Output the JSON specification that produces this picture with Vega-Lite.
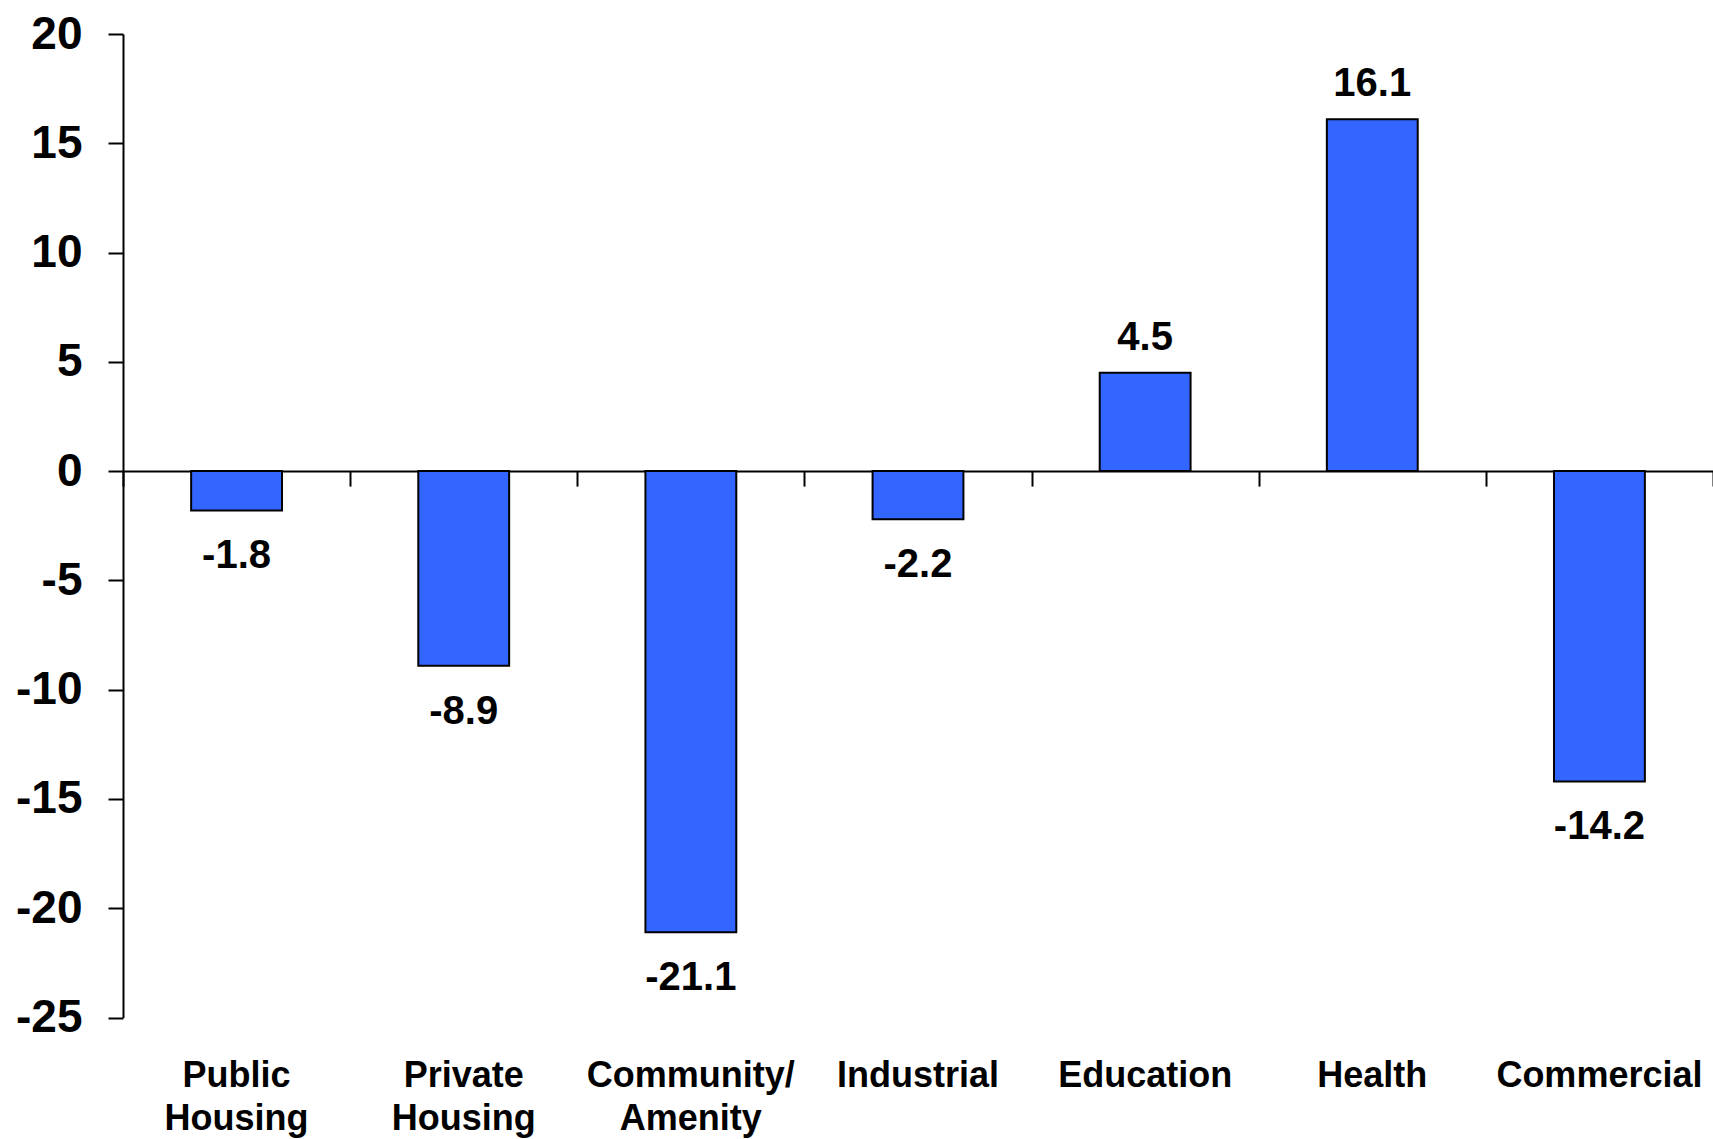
{
  "$schema": "https://vega.github.io/schema/vega-lite/v6.json",
  "width": 1590,
  "height": 983.5,
  "autosize": {"type": "none"},
  "padding": {"left": 123, "top": 34, "right": 0, "bottom": 121.5},
  "background": "white",
  "config": {"view": {"stroke": null}, "font": "Liberation Sans"},
  "data": {
    "values": [
      {"category": "Public Housing", "value": -1.8},
      {"category": "Private Housing", "value": -8.9},
      {"category": "Community/ Amenity", "value": -21.1},
      {"category": "Industrial", "value": -2.2},
      {"category": "Education", "value": 4.5},
      {"category": "Health", "value": 16.1},
      {"category": "Commercial", "value": -14.2}
    ]
  },
  "layer": [
    {
      "mark": {"type": "bar", "fill": "#3366FF", "stroke": "black", "strokeWidth": 2, "width": {"band": 0.4}},
      "encoding": {
        "x": {
          "field": "category", "type": "nominal", "sort": null,
          "scale": {"paddingInner": 0, "paddingOuter": 0},
          "axis": {
            "title": null, "orient": "bottom", "domain": false, "ticks": false, "tickSize": 0,
            "labelAngle": 0, "labelFontSize": 36, "labelFontWeight": "bold", "labelColor": "black",
            "labelPadding": 41, "labelLineHeight": 43, "labelBaseline": "top", "labelLimit": 0,
            "labelExpr": "split(datum.label, ' ')"
          }
        },
        "y": {
          "field": "value", "type": "quantitative",
          "scale": {"domain": [-25, 20], "nice": false, "zero": false},
          "axis": {
            "title": null, "grid": false, "values": [-25, -20, -15, -10, -5, 0, 5, 10, 15, 20],
            "domainColor": "black", "domainWidth": 2, "tickColor": "black", "tickWidth": 2, "tickSize": 15,
            "labelFontSize": 46, "labelFontWeight": "bold", "labelColor": "black", "labelPadding": 26,
            "labelExpr": "'' + datum.value"
          }
        }
      }
    },
    {
      "transform": [{"filter": "datum.value >= 0"}],
      "mark": {"type": "text", "baseline": "alphabetic", "dy": -23, "fontSize": 40, "fontWeight": "bold", "color": "black"},
      "encoding": {
        "x": {
          "field": "category", "type": "nominal", "sort": null,
          "axis": {
            "title": null, "orient": "bottom", "offset": -546.4, "labels": false,
            "domain": true, "domainColor": "black", "domainWidth": 2,
            "ticks": true, "tickBand": "extent", "tickSize": 15, "tickWidth": 2, "tickColor": "black"
          }
        },
        "y": {"field": "value", "type": "quantitative"},
        "text": {"field": "value", "type": "nominal"}
      }
    },
    {
      "transform": [{"filter": "datum.value < 0"}],
      "mark": {"type": "text", "baseline": "alphabetic", "dy": 58, "fontSize": 40, "fontWeight": "bold", "color": "black"},
      "encoding": {
        "x": {"field": "category", "type": "nominal", "sort": null, "axis": null},
        "y": {"field": "value", "type": "quantitative"},
        "text": {"field": "value", "type": "nominal"}
      }
    }
  ],
  "resolve": {"axis": {"x": "independent"}}
}
